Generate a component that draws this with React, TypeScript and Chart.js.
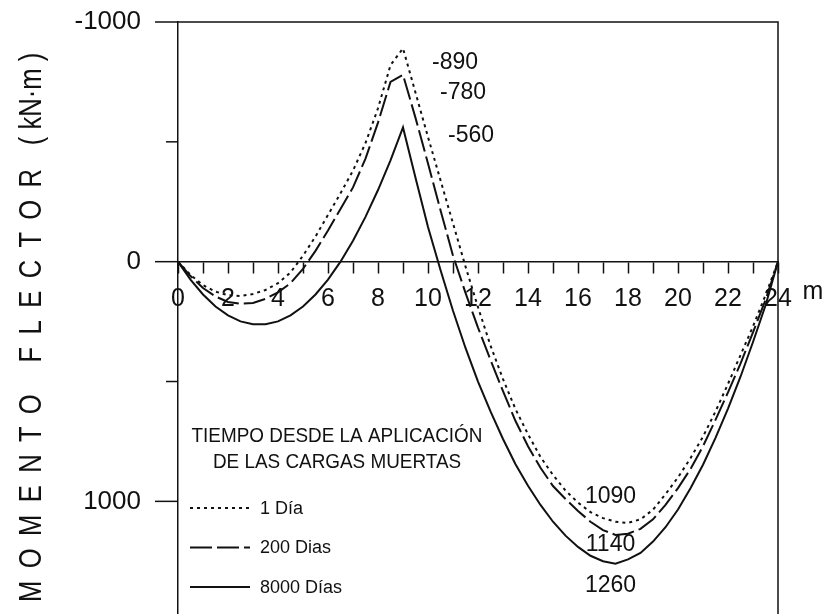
import React, { useEffect, useRef } from "react";
import { Chart, registerables } from "chart.js";

Chart.register(...registerables);

// Distance along the beam (m), every half metre.
const POSITIONS_M = [
  0, 0.5, 1, 1.5, 2, 2.5, 3, 3.5, 4, 4.5, 5, 5.5, 6, 6.5, 7, 7.5, 8, 8.5, 9,
  9.5, 10, 10.5, 11, 11.5, 12, 12.5, 13, 13.5, 14, 14.5, 15, 15.5, 16, 16.5,
  17, 17.5, 18, 18.5, 19, 19.5, 20, 20.5, 21, 21.5, 22, 22.5, 23, 23.5, 24,
];

// Bending moment (kN·m) for each age of the dead load.
const MOMENT_1_DIA = [
  0, 55, 98, 125, 140, 143, 135, 118, 90, 45, -25, -105, -195, -285, -380,
  -495, -640, -820, -890, -705, -520, -340, -160, 20, 190, 350, 490, 615, 720,
  815, 890, 955, 1005, 1045, 1070, 1085, 1090, 1075, 1035, 970, 900, 820, 730,
  625, 510, 390, 270, 140, 0,
];
const MOMENT_200_DIAS = [
  0, 60, 110, 145, 168, 176, 172, 155, 128, 90, 30, -45, -130, -220, -310,
  -430, -580, -750, -780, -600, -410, -215, -25, 130, 275, 410, 540, 665, 770,
  860, 936, 990, 1040, 1085, 1120, 1140, 1135, 1115, 1075, 1015, 945, 865, 770,
  660, 545, 425, 295, 160, 0,
];
const MOMENT_8000_DIAS = [
  0, 75, 137, 187, 224, 249, 261, 261, 249, 224, 187, 137, 75, 0, -87, -187,
  -299, -423, -560, -350, -145, 35, 205, 360, 500, 625, 740, 845, 935, 1015,
  1085, 1143, 1190, 1227, 1250, 1260, 1242, 1215, 1168, 1108, 1034, 945, 847,
  735, 613, 480, 335, 183, 0,
];

const SERIES_NAMES = ["1 Día", "200 Dias", "8000 Días"];
const LEGEND_TITLE = ["TIEMPO DESDE LA APLICACIÓN", "DE LAS CARGAS MUERTAS"];
const Y_TICKS = [-1000, -500, 0, 500, 1000];
const Y_LABELLED = [-1000, 0, 1000];
const Y_TITLE = "MOMENTO FLECTOR";
const Y_UNIT = "( kN·m )";
const X_UNIT = "m";
const SUPPORT_X = 9;
const SPAN_LABEL_X = 17.3;

const INK = "#111";
const FONT = '"Liberation Sans", Arial, Helvetica, sans-serif';

const DASHES = [[3, 4], [22, 5], []];
const WIDTHS = [2, 2, 2];

const fmt = (v: number) => String(v);

const decorations = {
  id: "decorations",
  afterDraw(chart: any) {
    const { ctx, chartArea: a } = chart;
    const xs = chart.scales.x;
    const ys = chart.scales.y;
    ctx.save();
    ctx.strokeStyle = INK;
    ctx.fillStyle = INK;
    ctx.lineWidth = 1.5;

    // frame: top and right edges
    ctx.beginPath();
    ctx.moveTo(a.left, a.top);
    ctx.lineTo(a.right, a.top);
    ctx.lineTo(a.right, a.bottom);
    ctx.stroke();

    // y tick marks, long on labelled values
    Y_TICKS.forEach((v) => {
      const py = ys.getPixelForValue(v);
      const len = Y_LABELLED.includes(v) ? 23 : 12;
      ctx.beginPath();
      ctx.moveTo(a.left - len, py);
      ctx.lineTo(a.left, py);
      ctx.stroke();
    });

    // y title, narrow and spaced
    ctx.save();
    ctx.translate(32, 602);
    ctx.rotate(-Math.PI / 2);
    ctx.scale(0.8, 1);
    ctx.font = `32px ${FONT}`;
    ctx.textAlign = "left";
    ctx.textBaseline = "middle";
    (ctx as any).letterSpacing = "15.5px";
    ctx.fillText(Y_TITLE, 0, 0);
    (ctx as any).letterSpacing = "0px";
    ctx.fillText(Y_UNIT, 571, 0);
    ctx.restore();

    // unit of the x axis
    ctx.font = `25px ${FONT}`;
    ctx.textAlign = "center";
    ctx.textBaseline = "middle";
    ctx.fillText(X_UNIT, xs.getPixelForValue(24) + 35, ys.getPixelForValue(0) + 30);

    // support moments and span maxima
    const series = chart.data.datasets.map((d: any) => d.data.map((p: any) => p.y));
    const iSupport = POSITIONS_M.indexOf(SUPPORT_X);
    const peakDx = [29, 37, 45];
    const peakDy = [14, 18, 8];
    const spanDy = [-26, 10, 22];
    ctx.font = `23px ${FONT}`;
    series.forEach((vals: number[], i: number) => {
      const sv = vals[iSupport];
      ctx.textAlign = "left";
      ctx.fillText(fmt(sv), xs.getPixelForValue(SUPPORT_X) + peakDx[i], ys.getPixelForValue(sv) + peakDy[i]);
      const mv = Math.max(...vals);
      ctx.textAlign = "center";
      ctx.fillText(fmt(mv), xs.getPixelForValue(SPAN_LABEL_X), ys.getPixelForValue(mv) + spanDy[i]);
    });

    // legend block
    const lx = a.left + 12;
    ctx.save();
    ctx.font = `21px ${FONT}`;
    ctx.textAlign = "center";
    LEGEND_TITLE.forEach((t, i) => {
      ctx.save();
      ctx.translate(a.left + 159, 436 + i * 26);
      ctx.scale(0.9, 1);
      ctx.fillText(t, 0, 0);
      ctx.restore();
    });
    ctx.restore();
    ctx.font = `18px ${FONT}`;
    ctx.textAlign = "left";
    SERIES_NAMES.forEach((name, i) => {
      const yy = 508 + i * 39.5;
      ctx.save();
      ctx.lineWidth = WIDTHS[i];
      ctx.setLineDash(DASHES[i]);
      ctx.beginPath();
      ctx.moveTo(lx, yy);
      ctx.lineTo(lx + 60, yy);
      ctx.stroke();
      ctx.restore();
      ctx.fillText(name, lx + 70, yy + 1);
    });
    ctx.restore();
  },
};

export default function App() {
  const ref = useRef<HTMLCanvasElement | null>(null);

  useEffect(() => {
    if (!ref.current) return;
    const seriesValues = [MOMENT_1_DIA, MOMENT_200_DIAS, MOMENT_8000_DIAS];
    const chart = new Chart(ref.current, {
      type: "line",
      data: {
        datasets: seriesValues.map((vals, i) => ({
          label: SERIES_NAMES[i],
          data: POSITIONS_M.map((x, j) => ({ x, y: vals[j] })),
          borderColor: INK,
          borderWidth: WIDTHS[i],
          borderDash: DASHES[i],
          pointRadius: 0,
          tension: 0,
          fill: false,
        })),
      },
      options: {
        responsive: false,
        animation: false,
        events: [],
        layout: { padding: { top: 22, right: 49, bottom: 0, left: 0 } },
        plugins: { legend: { display: false }, tooltip: { enabled: false } },
        font: { family: FONT },
        scales: {
          x: {
            type: "linear",
            min: 0,
            max: 24,
            position: { y: 0 } as any,
            afterFit: (s: any) => {
              s.height = 0;
              s.paddingLeft = 0;
              s.paddingRight = 0;
            },
            grid: { drawOnChartArea: false, tickLength: 11, tickColor: INK, tickWidth: 1.5 },
            border: { color: INK, width: 1.5 },
            ticks: {
              stepSize: 1,
              autoSkip: false,
              maxRotation: 0,
              padding: 11,
              color: INK,
              font: { size: 25, family: FONT },
              callback: (v: any) => (Number(v) % 2 === 0 ? String(v) : ""),
            },
          },
          y: {
            type: "linear",
            position: "left",
            reverse: true,
            min: -1000,
            max: 1470,
            afterBuildTicks: (s: any) => {
              s.ticks = Y_TICKS.map((value) => ({ value }));
            },
            afterFit: (s: any) => {
              s.width = 178;
              s.paddingTop = 0;
              s.paddingBottom = 0;
            },
            grid: { drawOnChartArea: false, tickLength: 23, tickColor: "rgba(0,0,0,0)" },
            border: { color: INK, width: 1.5 },
            ticks: {
              padding: 14,
              color: INK,
              font: { size: 26, family: FONT },
              callback: (v: any) => (Y_LABELLED.includes(Number(v)) ? String(v) : ""),
            },
          },
        },
      },
      plugins: [decorations],
    });
    return () => chart.destroy();
  }, []);

  return (
    <div style={{ position: "fixed", left: 0, top: 0, width: 827, height: 614, background: "#fff" }}>
      <canvas ref={ref} width={827} height={614} style={{ width: 827, height: 614, display: "block" }} />
    </div>
  );
}
